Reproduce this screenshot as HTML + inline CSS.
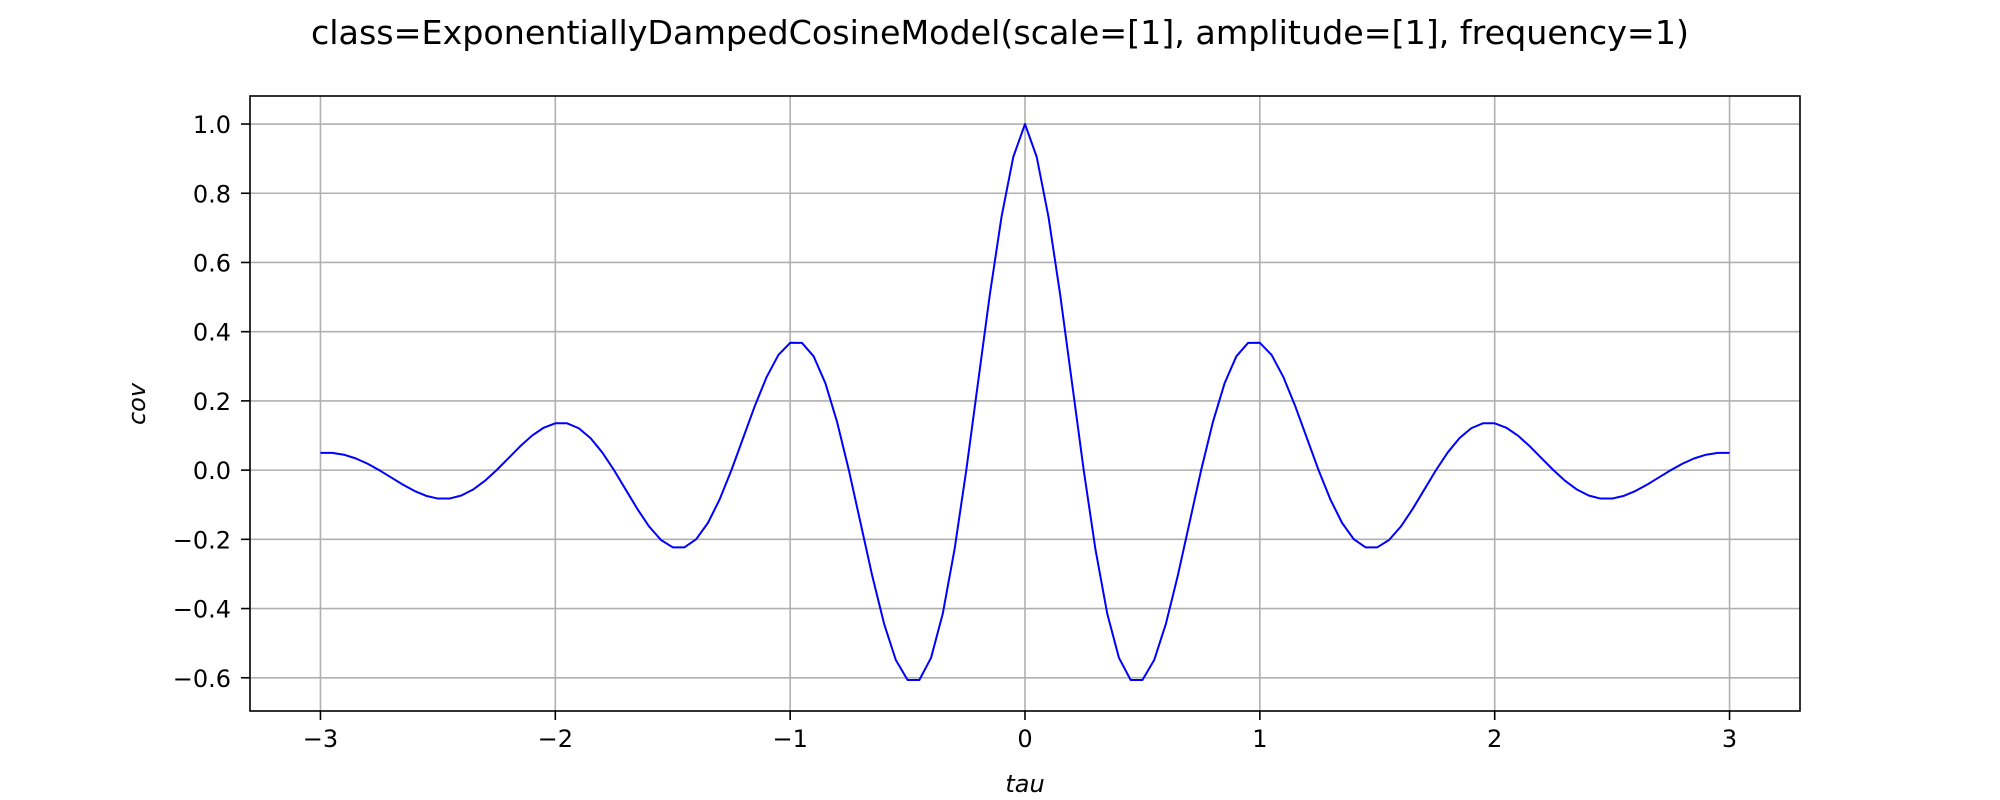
<!DOCTYPE html>
<html>
<head>
<meta charset="utf-8">
<style>
html,body{margin:0;padding:0;background:#fff;}
svg{display:block;font-family:"DejaVu Sans","Liberation Sans",sans-serif;}
</style>
</head>
<body>
<svg id="chart" width="2000" height="800" viewBox="0 0 2000 800" xmlns="http://www.w3.org/2000/svg">
  <rect x="0" y="0" width="2000" height="800" fill="#fff"/>
  <text x="1000" y="44" text-anchor="middle" font-size="33.3" fill="#000">class=ExponentiallyDampedCosineModel(scale=[1], amplitude=[1], frequency=1)</text>
  <g id="grid"></g>
  <g id="series"></g>
  <rect x="250" y="96" width="1550" height="615" fill="none" stroke="#000" stroke-width="1.6"/>
  <g id="ticks"></g>
  <text x="1025" y="792" text-anchor="middle" font-size="24" font-style="italic" fill="#000">tau</text>
  <text x="0" y="0" transform="translate(145,404) rotate(-90)" text-anchor="middle" font-size="24" font-style="italic" fill="#000">cov</text>
</svg>
<script>
const xTickValues = [-3, -2, -1, 0, 1, 2, 3];
const xTickLabels = ["\u22123", "\u22122", "\u22121", "0", "1", "2", "3"];
const yTickValues = [-0.6, -0.4, -0.2, 0.0, 0.2, 0.4, 0.6, 0.8, 1.0];
const yTickLabels = ["\u22120.6", "\u22120.4", "\u22120.2", "0.0", "0.2", "0.4", "0.6", "0.8", "1.0"];
const halfValues = [1, .9047, .7320, .5059, .2530, 0, -.2289, -.4142, -.5423, -.6064, -.6065, -.5487, -.4440, -.3068, -.1535, 0, .1388, .2512, .3289, .3678,
  .3679, .3328, .2693, .1861, .0931, 0, -.0842, -.1524, -.1995, -.2231, -.2231, -.2019, -.1633, -.1129, -.0565, 0, .0511, .0924, .1210, .1353,
  .1353, .1224, .0991, .0685, .0342, 0, -.0310, -.0561, -.0734, -.0821, -.0821, -.0743, -.0601, -.0415, -.0208, 0, .0188, .0340, .0445, .0498, .0498];
const tauValues = [];
for (let i = -60; i <= 60; i++) tauValues.push(i * 0.05);
const covValues = tauValues.map((t, i) => halfValues[Math.abs(i - 60)]);

const L = 250, R = 1800, T = 96, B = 711;
const xMin = -3.3, xMax = 3.3, yMin = -0.696, yMax = 1.081;
const sx = v => L + (v - xMin) / (xMax - xMin) * (R - L);
const sy = v => B - (v - yMin) / (yMax - yMin) * (B - T);
const NS = "http://www.w3.org/2000/svg";
const grid = document.getElementById('grid');
const ticks = document.getElementById('ticks');
const series = document.getElementById('series');
function mk(tag, attrs, parent) {
  const e = document.createElementNS(NS, tag);
  for (const k in attrs) e.setAttribute(k, attrs[k]);
  parent.appendChild(e);
  return e;
}
xTickValues.forEach((v, i) => {
  const x = sx(v);
  const g = mk('line', {x1: x, x2: x, y1: T, y2: B, stroke: '#b0b0b0', 'stroke-width': 1.6}, grid);
  
  
  const t = mk('line', {x1: x, x2: x, y1: B, y2: B + 9, stroke: '#000', 'stroke-width': 1.6}, ticks);
  
  
  const lb = mk('text', {x: x, y: B + 36, 'text-anchor': 'middle', 'font-size': 24, fill: '#000'}, ticks);
  lb.textContent = xTickLabels[i];
  
  
});
yTickValues.forEach((v, i) => {
  const y = sy(v);
  const g = mk('line', {x1: L, x2: R, y1: y, y2: y, stroke: '#b0b0b0', 'stroke-width': 1.6}, grid);
  
  
  const t = mk('line', {x1: L - 9, x2: L, y1: y, y2: y, stroke: '#000', 'stroke-width': 1.6}, ticks);
  
  
  const lb = mk('text', {x: L - 19, y: y + 9, 'text-anchor': 'end', 'font-size': 24, fill: '#000'}, ticks);
  lb.textContent = yTickLabels[i];
  
  
});
const pts = tauValues.map((t, i) => sx(t).toFixed(2) + ',' + sy(covValues[i]).toFixed(2)).join(' ');
const line = mk('polyline', {points: pts, fill: 'none', stroke: '#0000ff', 'stroke-width': 2, 'stroke-linejoin': 'round'}, series);


</script>
</body>
</html>
